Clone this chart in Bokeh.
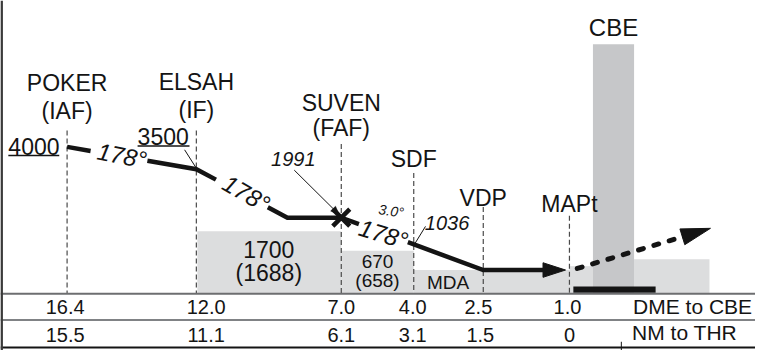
import numpy as np
from bokeh.plotting import figure
from bokeh.models import Range1d
from bokeh.core.properties import value
from bokeh.embed import file_html
from bokeh.resources import INLINE

# ---------------- data ----------------
fix_names = ["POKER", "ELSAH", "SUVEN", "SDF", "VDP", "MAPt"]
fix_roles = ["(IAF)", "(IF)", "(FAF)"]
dme_to_cbe = ["16.4", "12.0", "7.0", "4.0", "2.5", "1.0"]
nm_to_thr = ["15.5", "11.1", "6.1", "3.1", "1.5", "0"]
row_titles = ["DME to CBE", "NM to THR"]
course = "178°"
glide_angle = "3.0°"
alt_iaf = "4000"
alt_if = "3500"
alt_faf = "1991"
alt_sdf = "1036"
oca_faf = ["1700", "(1688)"]
oca_sdf = ["670", "(658)"]
mda_label = "MDA"
airport = "CBE"

# ---------------- schematic layout (profile view is not to scale) ----------------
W, H = 771, 361
fix_x = [68, 200, 348, 422, 493, 581]
fix_name_y = [85.5, 84, 105.5, 163.5, 203.5, 209.5]
fix_role_y = [114, 113, 131.5]
dash_top = [134, 134, 148, 178, 213, 222]
table_top, table_mid, table_bot = 302.5, 329.5, 358
dme_x = [66, 210, 348, 421, 488, 579]
thr_x = [66, 210, 348, 421, 490, 581]

# profile path (schematic) and the gaps left for the course labels
prof_x = [68, 200, 293, 348, 493, 556]
prof_y = [151, 174, 224, 224, 278, 278]
gaps = [(92, 150), (220, 273), (366, 416)]
missed_x = [589, 700]

TXT = "#141414"
FONT = value("Liberation Sans")

p = figure(width=755, height=350, output_backend="svg", toolbar_location=None,
           x_range=Range1d(0, W), y_range=Range1d(H, 0), min_border=0,
           background_fill_color="white", border_fill_color="white")
p.axis.visible = False
p.grid.visible = False
p.outline_line_color = None

# terrain / obstacle clearance shading
p.quad(left=[201, 348, 422, 581, 647], right=[348, 422, 581, 605, 724],
       top=[238, 258, 278, 274, 267], bottom=table_top,
       fill_color="#dcddde", line_color=None)
# aerodrome column
p.quad(left=[605], right=[647], top=[45], bottom=table_top,
       fill_color="#c6c7c9", line_color=None)
# runway
p.quad(left=[585], right=[669], top=[295], bottom=[301.5],
       fill_color=TXT, line_color=None)

# dashed fix verticals
p.segment(x0=fix_x, y0=dash_top, x1=fix_x, y1=table_top,
          line_color="#4a4a4a", line_width=1.2, line_dash="5 3")

# table lines and frame
p.segment(x0=[0, 0, 0], y0=[table_top, table_mid, table_bot],
          x1=[W, W, W], y1=[table_top, table_mid, table_bot],
          line_color=["#6d6e70", "#808285", TXT], line_width=2)
p.segment(x0=[1.2], y0=[0], x1=[1.2], y1=[H], line_color="#3a3a3a", line_width=2.5)
p.segment(x0=[634], y0=[352], x1=[634], y1=[H], line_color=TXT, line_width=1)

# profile with gaps
bounds = [prof_x[0]] + [g for gap in gaps for g in gap] + [prof_x[-1]]
xs_list, ys_list = [], []
for a, b in zip(bounds[0::2], bounds[1::2]):
    sx = [a] + [x for x in prof_x if a < x < b] + [b]
    xs_list.append(sx)
    ys_list.append(list(np.interp(sx, prof_x, prof_y)))
p.multi_line(xs=xs_list, ys=ys_list, line_color=TXT, line_width=4.5,
             line_join="miter")


def head(tip, frm, length, half):
    d = np.array(tip, float) - np.array(frm, float)
    u = d / np.hypot(*d)
    n = np.array([-u[1], u[0]])
    base = np.array(tip) - u * length
    pts = [tip, base + n * half, base - n * half]
    return [q[0] for q in pts], [q[1] for q in pts]


# arrow to MAPt
hx, hy = head((577, 278), (493, 278), 23, 7.5)
p.patch(hx, hy, fill_color=TXT, line_color=TXT, line_width=1)

# missed approach
m_tip = (725, 235)
m_y = list(np.interp(missed_x, [587, 725], [277, 235]))
p.line(missed_x, m_y, line_color=TXT, line_width=5, line_dash="5 11",
       line_cap="round")
hx, hy = head(m_tip, (587, 277), 30, 8.5)
p.patch(hx, hy, fill_color=TXT, line_color=TXT, line_width=1)

# FAF cross
p.scatter(x=[fix_x[2]], y=[224], marker="x", size=24, line_width=4.5,
          line_color=TXT)

# leaders
p.segment(x0=[188, 434], y0=[154, 233], x1=[200, 423], y1=[173, 251],
          line_color=TXT, line_width=1)
p.segment(x0=[300], y0=[175], x1=[341], y1=[216], line_color=TXT, line_width=1)
hx, hy = head((346, 221), (300, 175), 9, 3.5)
p.patch(hx, hy, fill_color=TXT, line_color=TXT, line_width=0.5)

# underlines of minimum altitudes
p.segment(x0=[8, 140], y0=[160, 150], x1=[60, 193], y1=[160, 150],
          line_color=TXT, line_width=1.5)

# ----- texts -----
def txt(x, y, t, size, align="center", style="normal", angle=0):
    p.text(x=x, y=y, text=t, text_font=FONT, text_font_size=f"{size}px",
           text_align=align, text_baseline="middle", text_color=TXT,
           text_font_style=style, angle=angle)

txt(fix_x, fix_name_y, fix_names, 23)
txt(fix_x[:3], fix_role_y, fix_roles, 23)
txt([626], [27.5], [airport], 24)

txt([8], [150.5], [alt_iaf], 23, align="left")
txt([140], [140.5], [alt_if], 23, align="left")
txt([299], [163.5], [alt_faf], 20, style="italic")
txt([456], [229.5], [alt_sdf], 20, style="italic")

ang = np.radians([-11, -30, -17])
txt([124, 251, 391], [160, 199, 241], [course] * 3, 24,
    style="italic", angle=list(ang))
txt([399], [217], [glide_angle], 14, style="italic",
    angle=[np.radians(-8)])

txt([274, 274], [256.5, 281.5], oca_faf, 23)
txt([385, 385], [269.5, 289], oca_sdf, 19)
txt([457], [291], [mda_label], 19)

txt(dme_x, [316] * 6, dme_to_cbe, 20)
txt(thr_x, [345] * 6, nm_to_thr, 20)
txt([646, 645], [315.5, 342], row_titles, 21, align="left")

open("out.html", "w").write(file_html(p, INLINE))
